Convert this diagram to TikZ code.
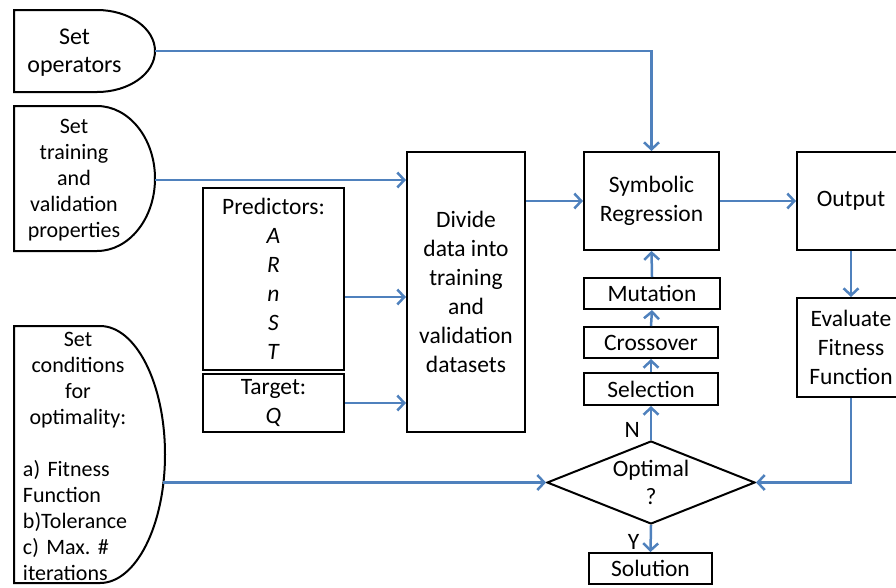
\documentclass[tikz,border=0pt]{standalone}
\usepackage{fontspec}
\setmainfont{Carlito}
\usepackage{tikz}
\usetikzlibrary{shapes.geometric, arrows.meta}
\definecolor{flowblue}{RGB}{79,129,189}
\tikzset{%
	box/.style = { draw, line width=2pt, align=center, inner sep=0pt, font=\fontsize{23.5}{28.5}\selectfont },
	flow/.style = { flowblue, line width=2.5pt, -{Straight Barb[length=7pt,width=15pt]} },
	delay/.style = { draw, line width=2pt },
	settext/.style = { align=center, inner sep=0pt, font=\fontsize{22}{26}\selectfont },
	decision/.style = { box, diamond, aspect=2.5, inner ysep=-8pt, font=\fontsize{23.5}{28}\selectfont },
	yn/.style = { black, inner sep=0pt, font=\fontsize{23.5}{28}\selectfont }
}

\begin{document}
\begin{tikzpicture}[x=1pt, y=1pt]
	\useasboundingbox (0,0) rectangle (896,-587);
	\clip (0,0) rectangle (896,-587);
	% settings on the left
	\draw[delay] (14,-10) -- (97,-10) arc[start angle=90, end angle=-90, x radius=58pt, y radius=41pt] -- (14,-92) -- cycle;
	\node[settext, font=\fontsize{24}{28}\selectfont] (ops) at (74.5,-53) {Set\\operators};
	\coordinate (ops-out) at (155,-51);
	\draw[delay] (14,-106) -- (97,-106) arc[start angle=90, end angle=-90, x radius=58pt, y radius=72.5pt] -- (14,-251) -- cycle;
	\node[settext] (train) at (74,-180) {Set\\training\\and\\validation\\properties};
	\coordinate (train-out) at (155,-180);
	\draw[delay] (14,-326) -- (100,-326) arc[start angle=90, end angle=-90, x radius=65pt, y radius=128.5pt] -- (14,-583) -- cycle;
	\node[inner sep=0pt, text width=110pt, font=\fontsize{22}{26}\selectfont] (cond) at (78,-456.5) {{\centering Set\\conditions\\for\\optimality:\par}\vspace{26pt}{\raggedright a) Fitness\\Function\\b)Tolerance\\c) Max.\ \#\\iterations\par}};
	\coordinate (cond-out) at (163,-482.5);
	% data
	\node[box, minimum width=141pt, minimum height=182pt, font=\fontsize{23.5}{29}\selectfont] (pred) at (273.5,-279) {Predictors:\\\textit{A}\\\textit{R}\\\textit{n}\\\textit{S}\\\textit{T}};
	\node[box, minimum width=141pt, minimum height=58pt] (tgt) at (273.5,-403) {Target:\\\textit{Q}};
	\node[box, minimum width=118pt, minimum height=280pt, font=\fontsize{23.5}{29}\selectfont] (div) at (466,-292) {Divide\\data into\\training\\and\\validation\\datasets};
	% regression loop
	\node[box, minimum width=135pt, minimum height=98pt] (sr) at (651.5,-201) {Symbolic\\Regression};
	\node[box, minimum width=136pt, minimum height=31pt] (mut) at (652,-293.5) {Mutation};
	\node[box, minimum width=134pt, minimum height=31pt] (cross) at (651,-342.5) {Crossover};
	\node[box, minimum width=134pt, minimum height=32pt] (sel) at (651,-389) {Selection};
	\node[decision, minimum width=208pt, minimum height=83pt] (opt) at (651,-482.5) {Optimal\\?};
	\node[box, minimum width=123pt, minimum height=31pt] (sol) at (650.5,-568.5) {Solution};
	% output side
	\node[box, minimum width=108pt, minimum height=98pt] (out) at (851,-201) {Output};
	\node[box, minimum width=108pt, minimum height=99pt, font=\fontsize{23.5}{29}\selectfont] (eval) at (851,-347.5) {Evaluate\\Fitness\\Function};
	% connectors
	\draw[flow] (ops-out) -| (sr.north);
	\draw[flow] (train-out) -- (train-out -| div.west);
	\draw[flow] ([yshift=-18pt]pred.east) -- ([yshift=-18pt]pred.east -| div.west);
	\draw[flow] (tgt.east) -- (tgt.east -| div.west);
	\draw[flow] (div.east |- sr) -- (sr.west);
	\draw[flow] (sr.east) -- (out.west);
	\draw[flow] (out.south) -- (eval.north);
	\draw[flow] (eval.south) |- (opt.east);
	\draw[flow] (cond-out) -- (opt.west);
	\draw[flow] (opt.north) -- node[yn, left=10pt, pos=0.3] {N} (sel.south);
	\draw[flow] (sel.north) -- (cross.south);
	\draw[flow] (cross.north) -- (mut.south);
	\draw[flow] (mut.north) -- (sr.south);
	\draw[flow] (opt.south) -- node[yn, left=10pt, pos=0.62] {Y} (sol.north);
\end{tikzpicture}
\end{document}
